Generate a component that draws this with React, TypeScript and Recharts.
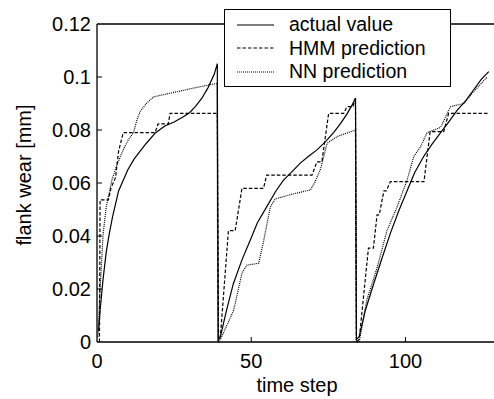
import { LineChart, Line, XAxis, YAxis, Legend, ReferenceLine } from 'recharts';

// flank wear, three tool cycles (t = time step, v = wear in mm)
const ACTUAL = [
  { t: 0.5, v: 0.004 }, { t: 1, v: 0.012 }, { t: 2, v: 0.024 }, { t: 3, v: 0.034 }, { t: 4, v: 0.041 },
  { t: 5, v: 0.047 }, { t: 6, v: 0.052 }, { t: 7, v: 0.057 }, { t: 8.5, v: 0.061 }, { t: 10, v: 0.065 },
  { t: 12, v: 0.069 }, { t: 14, v: 0.072 }, { t: 16, v: 0.075 }, { t: 19, v: 0.079 }, { t: 22, v: 0.0815 },
  { t: 25, v: 0.083 }, { t: 28, v: 0.085 }, { t: 30, v: 0.0865 }, { t: 32, v: 0.089 }, { t: 34, v: 0.092 },
  { t: 36, v: 0.096 }, { t: 38, v: 0.101 }, { t: 39, v: 0.105 }, { t: 39.3, v: 0.001 },
  { t: 40, v: 0.002 }, { t: 42, v: 0.012 }, { t: 44.2, v: 0.022 }, { t: 47, v: 0.031 }, { t: 49.7, v: 0.0385 },
  { t: 52, v: 0.045 }, { t: 55, v: 0.051 }, { t: 58, v: 0.057 }, { t: 60.4, v: 0.061 }, { t: 63, v: 0.064 },
  { t: 65.9, v: 0.0675 }, { t: 68.5, v: 0.07 }, { t: 71.3, v: 0.0725 }, { t: 74, v: 0.0755 }, { t: 76.7, v: 0.079 },
  { t: 79, v: 0.0825 }, { t: 81, v: 0.086 }, { t: 82.5, v: 0.089 }, { t: 83.8, v: 0.092 }, { t: 84.1, v: 0.001 },
  { t: 85, v: 0.002 }, { t: 87, v: 0.012 }, { t: 89.7, v: 0.022 }, { t: 92.5, v: 0.032 }, { t: 95.1, v: 0.041 },
  { t: 98, v: 0.05 }, { t: 100.5, v: 0.057 }, { t: 103, v: 0.064 }, { t: 105.9, v: 0.07 }, { t: 108.5, v: 0.0745 },
  { t: 111.4, v: 0.079 }, { t: 114, v: 0.083 }, { t: 116.8, v: 0.0875 }, { t: 119.5, v: 0.091 }, { t: 122, v: 0.095 },
  { t: 124.5, v: 0.099 }, { t: 127, v: 0.102 },
];

const HMM = [
  { t: 0.8, v: 0 }, { t: 1, v: 0.0536 }, { t: 3.7, v: 0.0536 }, { t: 4.5, v: 0.058 }, { t: 6, v: 0.062 },
  { t: 7, v: 0.072 }, { t: 8.5, v: 0.079 }, { t: 18.8, v: 0.079 }, { t: 19.8, v: 0.0823 }, { t: 23.1, v: 0.0823 },
  { t: 23.7, v: 0.0863 }, { t: 39, v: 0.0863 }, { t: 39.4, v: 0 },
  { t: 40, v: 0.002 }, { t: 42.6, v: 0.042 }, { t: 44.8, v: 0.042 }, { t: 47, v: 0.058 }, { t: 54, v: 0.058 },
  { t: 55, v: 0.063 }, { t: 69.7, v: 0.063 }, { t: 71.3, v: 0.068 }, { t: 72.9, v: 0.068 }, { t: 75.1, v: 0.0863 },
  { t: 80, v: 0.0863 }, { t: 81, v: 0.0888 }, { t: 83, v: 0.0888 }, { t: 83.8, v: 0.092 }, { t: 84.1, v: 0 },
  { t: 85, v: 0.001 }, { t: 88, v: 0.0354 }, { t: 89.6, v: 0.0354 }, { t: 90.8, v: 0.048 }, { t: 91.5, v: 0.048 },
  { t: 93, v: 0.057 }, { t: 93.8, v: 0.057 }, { t: 95.1, v: 0.0605 }, { t: 106, v: 0.0605 }, { t: 108, v: 0.0794 },
  { t: 112.4, v: 0.0794 }, { t: 114, v: 0.0863 }, { t: 127, v: 0.0863 },
];

const NN = [
  { t: 0.3, v: 0.002 }, { t: 1, v: 0.02 }, { t: 2, v: 0.041 }, { t: 3, v: 0.051 }, { t: 4.8, v: 0.061 },
  { t: 6.5, v: 0.067 }, { t: 8.5, v: 0.0725 }, { t: 10, v: 0.076 }, { t: 11.8, v: 0.079 }, { t: 13, v: 0.084 },
  { t: 14, v: 0.087 }, { t: 16, v: 0.09 }, { t: 18.3, v: 0.0925 }, { t: 25, v: 0.0942 }, { t: 32, v: 0.096 },
  { t: 38.9, v: 0.0976 }, { t: 39.2, v: 0 },
  { t: 40, v: 0.001 }, { t: 42, v: 0.006 }, { t: 44.3, v: 0.012 }, { t: 47, v: 0.026 }, { t: 48.6, v: 0.029 },
  { t: 52.4, v: 0.0297 }, { t: 54, v: 0.038 }, { t: 56.2, v: 0.051 }, { t: 57.8, v: 0.054 }, { t: 63, v: 0.0557 },
  { t: 69.2, v: 0.0574 }, { t: 70.5, v: 0.06 }, { t: 72.4, v: 0.065 }, { t: 74.6, v: 0.075 }, { t: 77.8, v: 0.0775 },
  { t: 83.8, v: 0.08 }, { t: 84.1, v: 0 },
  { t: 85, v: 0 }, { t: 87.5, v: 0.016 }, { t: 90.8, v: 0.028 }, { t: 94, v: 0.042 }, { t: 97.3, v: 0.051 },
  { t: 100.5, v: 0.061 }, { t: 102.7, v: 0.07 }, { t: 104.9, v: 0.0737 }, { t: 107, v: 0.079 }, { t: 111.4, v: 0.081 },
  { t: 114.6, v: 0.0888 }, { t: 118.9, v: 0.09 }, { t: 122.5, v: 0.095 }, { t: 126.5, v: 0.1 },
];

const X_TICKS = [0, 50, 100];
const Y_TICKS = [0, 0.02, 0.04, 0.06, 0.08, 0.1, 0.12];

const SERIES = [
  { name: 'actual value', data: ACTUAL, dash: undefined as string | undefined },
  { name: 'HMM prediction', data: HMM, dash: '3.5 2' },
  { name: 'NN prediction', data: NN, dash: '1 1' },
];

const FONT = '"Liberation Sans", Arial, sans-serif';
const PLOT_LEFT = 97;
const PLOT_BOTTOM = 342;

function YTick(props: any) {
  const { y, payload } = props;
  return (
    <g>
      {payload.value > 0 && payload.value < 0.12 && (
        <line x1={PLOT_LEFT} x2={PLOT_LEFT + 5} y1={y} y2={y} stroke="#000" strokeWidth={1} />
      )}
      <text x={91} y={y + 7} textAnchor="end" fontSize={20} fontFamily={FONT} fill="#000">
        {String(payload.value)}
      </text>
    </g>
  );
}

function XTick(props: any) {
  const { x, payload } = props;
  return (
    <g>
      {payload.value > 0 && (
        <line x1={x} x2={x} y1={PLOT_BOTTOM} y2={PLOT_BOTTOM - 5} stroke="#000" strokeWidth={1} />
      )}
      <text x={x} y={PLOT_BOTTOM + 26} textAnchor="middle" fontSize={20} fontFamily={FONT} fill="#000">
        {String(payload.value)}
      </text>
    </g>
  );
}

function LegendBox() {
  return (
    <div
      style={{
        width: 227,
        height: 78,
        boxSizing: 'border-box',
        border: '1.3px solid #000',
        background: '#fff',
        paddingTop: 3,
        fontFamily: FONT,
        fontSize: 19.5,
        color: '#000',
      }}
    >
      {SERIES.map((s) => (
        <div key={s.name} style={{ display: 'flex', alignItems: 'center', height: 23.5, lineHeight: '23.5px' }}>
          <svg width={64} height={10} style={{ flex: 'none' }}>
            <line x1={12} x2={49} y1={5} y2={5} stroke="#000" strokeWidth={1.2} strokeDasharray={s.dash} />
          </svg>
          <span style={{ whiteSpace: 'nowrap' }}>{s.name}</span>
        </div>
      ))}
    </div>
  );
}

export default function App() {
  return (
    <div style={{ position: 'absolute', left: 0, top: 0, width: 494, height: 399, overflow: 'hidden', background: '#fff' }}>
      <LineChart width={500} height={399} margin={{ top: 24, right: 2, bottom: 7, left: 0 }}>
        <XAxis
          type="number"
          dataKey="t"
          domain={[0, 130]}
          ticks={X_TICKS}
          tickLine={false}
          axisLine={{ stroke: '#000', strokeWidth: 1.3 }}
          tick={<XTick />}
          height={50}
          allowDuplicatedCategory={false}
          label={{
            content: () => (
              <text x={297} y={392} textAnchor="middle" fontSize={20} fontFamily={FONT} fill="#000">
                time step
              </text>
            ),
          }}
        />
        <YAxis
          type="number"
          domain={[0, 0.12]}
          ticks={Y_TICKS}
          tickLine={false}
          axisLine={{ stroke: '#000', strokeWidth: 1.3 }}
          tick={<YTick />}
          width={97}
          label={{
            content: () => (
              <text
                transform="translate(31,175) rotate(-90)"
                textAnchor="middle"
                fontSize={20}
                fontFamily={FONT}
                fill="#000"
              >
                flank wear [mm]
              </text>
            ),
          }}
        />
        <ReferenceLine y={0.12} stroke="#000" strokeWidth={1.3} />
        {SERIES.map((s) => (
          <Line
            key={s.name}
            data={s.data}
            dataKey="v"
            name={s.name}
            type="linear"
            stroke="#000"
            strokeWidth={1.2}
            strokeDasharray={s.dash}
            dot={false}
            isAnimationActive={false}
          />
        ))}
        <Legend
          layout="vertical"
          align="center"
          verticalAlign="middle"
          content={() => <LegendBox />}
          wrapperStyle={{ position: 'absolute', left: 224, top: 9, width: 227, height: 78 }}
        />
      </LineChart>
    </div>
  );
}
